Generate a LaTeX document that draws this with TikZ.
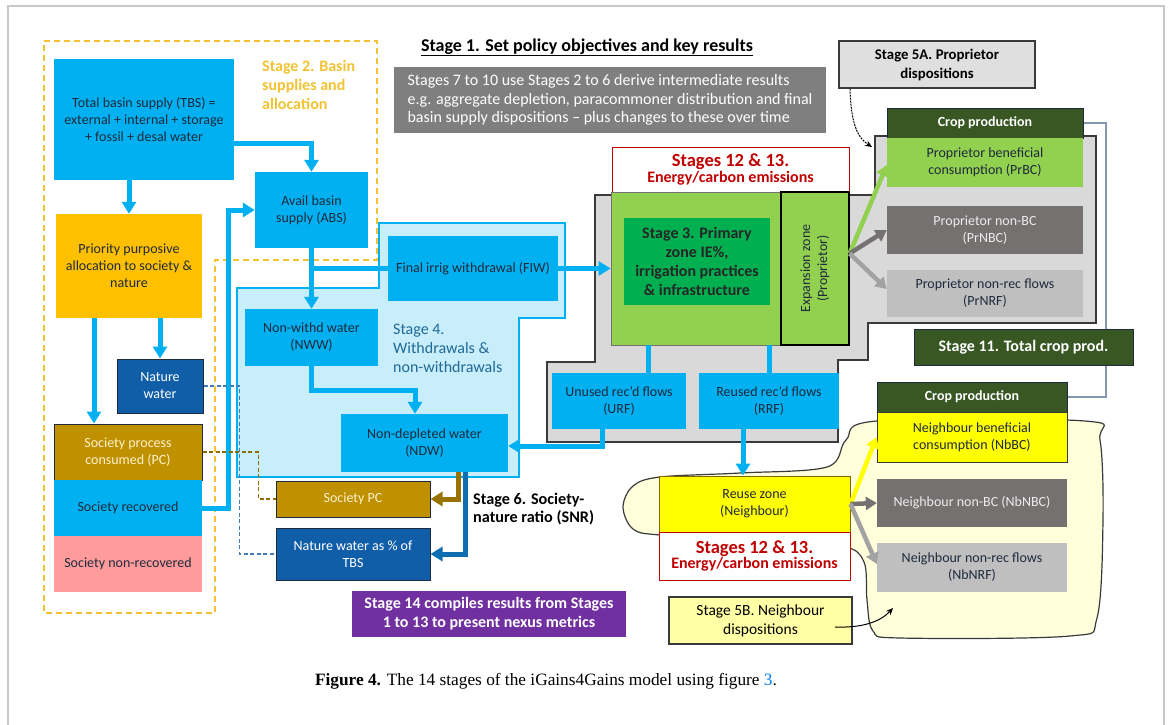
\documentclass[tikz,border=0pt]{standalone}
\usepackage{fontspec}
\setmainfont{Carlito}
\newfontfamily\capfont{Liberation Serif}
\usepackage{xcolor}
\usepackage{tikz}
\usetikzlibrary{arrows.meta}
\definecolor{igcyan}{HTML}{00B0F0}
\definecolor{igpale}{HTML}{C8EDFB}
\definecolor{igtext}{HTML}{1F2A3C}
\definecolor{igorange}{HTML}{FFC000}
\definecolor{iggold}{HTML}{F2C232}
\definecolor{ignavy}{HTML}{115EA8}
\definecolor{igbrown}{HTML}{BF9000}
\definecolor{igcream}{HTML}{FFF2CC}
\definecolor{igpink}{HTML}{FF9B9B}
\definecolor{iglime}{HTML}{92D050}
\definecolor{iggreen}{HTML}{00B050}
\definecolor{igforest}{HTML}{385723}
\definecolor{igdgrey}{HTML}{767171}
\definecolor{iglgrey}{HTML}{BFBFBF}
\definecolor{igzone}{HTML}{D9D9D9}
\definecolor{igmid}{HTML}{7F7F7F}
\definecolor{igred}{HTML}{C00000}
\definecolor{igpurple}{HTML}{7030A0}
\definecolor{igyellow}{HTML}{FFFF00}
\definecolor{igblob}{HTML}{FFFFDC}
\definecolor{igsand}{HTML}{FFFFA6}
\definecolor{iglink}{HTML}{8497B0}
\definecolor{igteal}{HTML}{1F6A96}
\definecolor{igframe}{HTML}{C8C8C8}
\definecolor{igline}{HTML}{3A3A3A}

\begin{document}
\begin{tikzpicture}[x=1pt,y=-1pt,
  bx/.style={align=center,inner sep=2pt,text=igtext,font=\fontsize{14}{17}\selectfont},
  water/.style={bx,fill=igcyan},
  navybox/.style={bx,fill=ignavy,draw=igtext,line width=1pt,text=white},
  brownbox/.style={bx,fill=igbrown,draw=igtext,line width=1pt,text=igcream},
  crophd/.style={bx,fill=igforest,draw=igtext,line width=1pt,text=white,font=\fontsize{14}{17}\selectfont\bfseries},
  redbox/.style={align=center,inner sep=1pt,fill=white,draw=igred,line width=1pt,text=igred,font=\bfseries},
  lbl/.style={align=left,inner sep=0pt,anchor=base west,font=\fontsize{16}{19}\selectfont},
  flow/.style={draw=igcyan,line width=5pt,-{Triangle[length=12pt,width=14pt]}},
  flowline/.style={draw=igcyan,line width=5pt},
  fan/.style={line width=4.5pt,-{Triangle[length=11pt,width=13pt]}},
  link/.style={draw=iglink,line width=1.5pt},
  dashlink/.style={line width=1.3pt,dash pattern=on 4pt off 2.5pt},
  curvy/.style={draw=black,line width=1pt,-{Stealth[length=7pt,width=6pt]}}]
\useasboundingbox (0,0) rectangle (1171,724);

% frame and stage regions
\draw[igframe,line width=1.5pt] (8,740) -- (8,6) -- (1164,6) -- (1164,740);
\draw[iggold,line width=2pt,dash pattern=on 6pt off 4pt]
  (44,41) -- (377,41) -- (377,260) -- (215,260) -- (215,613) -- (44,613) -- cycle;
\filldraw[fill=igpale,draw=igcyan,line width=1.5pt]
  (379,223) -- (565,223) -- (565,318) -- (519,318) -- (519,477) -- (237,477) -- (237,288) -- (379,288) -- cycle;
\filldraw[fill=igzone,draw=igline,line width=1.5pt]
  (595,195) -- (875,195) -- (875,136) -- (1096,136) -- (1096,323) -- (868,323) -- (868,360)
  -- (838,360) -- (838,442) -- (547,442) -- (547,362) -- (595,362) -- cycle;
\filldraw[fill=igblob,draw=igline,line width=1.2pt] plot[smooth cycle,tension=0.55] coordinates
  {(877,421) (846,440) (827,467) (740,473) (660,477) (633,486) (623,507) (633,529) (660,535)
   (760,540) (842,546) (864,562) (867,600) (873,631) (900,638) (1070,636) (1097,618)
   (1103,520) (1100,440) (1085,421)};

% stage 2: basin supplies
\node[lbl,text=iggold,font=\fontsize{16}{19}\selectfont\bfseries] (s2lbl) at (262,109)
  {Stage 2. Basin\\supplies and\\allocation};
\node[water,minimum width=180pt,minimum height=121pt] (tbs) at (144,119.5)
  {Total basin supply (TBS) =\\external + internal + storage\\+ fossil + desal water};
\node[bx,fill=igorange,minimum width=146pt,minimum height=104pt] (pri) at (129,266)
  {Priority purposive\\allocation to society \&\\nature};
\node[water,minimum width=113pt,minimum height=76pt] (abs) at (311.5,210) {Avail basin\\supply (ABS)};
\node[navybox,minimum width=86pt,minimum height=54pt] (nat) at (160,386) {Nature\\water};
\node[brownbox,minimum width=148pt,minimum height=56pt] (socpc) at (128,452) {Society process\\consumed (PC)};
\node[water,minimum width=148pt,minimum height=56pt] (socrec) at (128,508) {Society recovered};
\node[bx,fill=igpink,minimum width=148pt,minimum height=56pt] (socnon) at (128,564) {Society non-recovered};

% stage 4: withdrawals
\node[water,minimum width=170pt,minimum height=65pt] (fiw) at (473,268.5) {Final irrig withdrawal (FIW)};
\node[water,minimum width=133pt,minimum height=57pt] (nww) at (311.5,337.5) {Non-withd water\\(NWW)};
\node[lbl,text=igteal] (s4lbl) at (393,372) {Stage 4.\\Withdrawals \&\\non-withdrawals};
\node[water,minimum width=167pt,minimum height=58pt] (ndw) at (424.5,443) {Non-depleted water\\(NDW)};

% stage 6
\node[brownbox,minimum width=154pt,minimum height=36pt] (spc) at (353,499) {Society PC};
\node[navybox,minimum width=154pt,minimum height=52pt] (nwp) at (353,554) {Nature water as \% of\\TBS};
\node[lbl,text=black,font=\fontsize{16.2}{18.5}\selectfont\bfseries] (s6lbl) at (473,522.5)
  {Stage 6. Society-\\nature ratio (SNR)};
\node[bx,fill=igpurple,text=white,font=\fontsize{16}{19}\selectfont\bfseries,
  minimum width=274pt,minimum height=46pt] (s14) at (489,614)
  {Stage 14 compiles results from Stages\\1 to 13 to present nexus metrics};

% stage 1
\node[inner sep=0pt,anchor=base,font=\fontsize{18}{20}\selectfont\bfseries] (s1) at (587,51)
  {\underline{Stage 1. Set policy objectives and key results}};
\node[bx,fill=igmid,text=white,align=left,font=\fontsize{16}{18.5}\selectfont,
  minimum width=432pt,minimum height=66pt] (s710) at (610,100)
  {Stages 7 to 10 use Stages 2 to 6 derive intermediate results\\e.g. aggregate depletion, paracommoner distribution and final\\basin supply dispositions -- plus changes to these over time};

% stage 3: primary zone
\node[redbox,minimum width=237pt,minimum height=45pt] (em1) at (730.5,169.5)
  {\fontsize{18.5}{19}\selectfont Stages 12 \& 13.\\[0pt]\fontsize{16}{17}\selectfont Energy/carbon emissions};
\node[fill=iglime,draw=igdgrey,line width=0.8pt,minimum width=170pt,minimum height=153pt] (prim) at (696,268.5) {};
\node[fill=iglime,draw=black,line width=1.2pt,minimum width=68pt,minimum height=153pt] (exp) at (815,268.5) {};
\node[bx,rotate=90] (explbl) at (exp) {Expansion zone\\(Proprietor)};
\node[bx,fill=iggreen,text=black!85,font=\fontsize{16}{19}\selectfont\bfseries,
  minimum width=146pt,minimum height=87pt] (s3) at (697,261.5)
  {Stage 3. Primary\\zone IE\%,\\irrigation practices\\\& infrastructure};
\node[water,minimum width=134pt,minimum height=56pt] (urf) at (619,401) {Unused rec’d flows\\(URF)};
\node[water,minimum width=140pt,minimum height=56pt] (rrf) at (769,401) {Reused rec’d flows\\(RRF)};

% stage 5A: proprietor
\node[bx,fill=igzone!85!white,draw=igline,line width=1.2pt,text=black,font=\fontsize{14.8}{19}\selectfont\bfseries,
  minimum width=196pt,minimum height=47pt] (s5a) at (937,64.5) {Stage 5A. Proprietor\\dispositions};
\node[crophd,minimum width=196pt,minimum height=30pt] (prcrop) at (985,123) {Crop production};
\node[bx,fill=iglime,minimum width=196pt,minimum height=49pt] (prbc) at (985,162.5)
  {Proprietor beneficial\\consumption (PrBC)};
\node[bx,fill=igdgrey,text=white!92!black,minimum width=196pt,minimum height=48pt] (prnbc) at (985,230)
  {Proprietor non-BC\\(PrNBC)};
\node[bx,fill=iglgrey,minimum width=196pt,minimum height=47pt] (prnrf) at (985,293.5)
  {Proprietor non-rec flows\\(PrNRF)};
\node[bx,fill=igforest,draw=igtext,line width=1pt,text=white,font=\fontsize{16}{18}\selectfont\bfseries,
  minimum width=219pt,minimum height=36pt] (s11) at (1023.5,347) {Stage 11. Total crop prod.};

% stage 5B: neighbour
\node[bx,fill=igyellow,draw=igbrown!70!black,line width=1pt,minimum width=191pt,minimum height=56pt] (reuse) at (754.5,504)
  {Reuse zone\\(Neighbour)};
\node[redbox,minimum width=191pt,minimum height=48pt] (em2) at (754.5,556)
  {\fontsize{18.5}{19}\selectfont Stages 12 \& 13.\\[0pt]\fontsize{16}{17}\selectfont Energy/carbon emissions};
\node[crophd,minimum width=190pt,minimum height=30pt] (nbcrop) at (972,397) {Crop production};
\node[bx,fill=igyellow,draw=igline,line width=0.8pt,minimum width=190pt,minimum height=50pt] (nbbc) at (972,437)
  {Neighbour beneficial\\consumption (NbBC)};
\node[bx,fill=igdgrey,text=white!92!black,minimum width=190pt,minimum height=48pt] (nbnbc) at (972,503)
  {Neighbour non-BC (NbNBC)};
\node[bx,fill=iglgrey,minimum width=190pt,minimum height=49pt] (nbnrf) at (972,567.5)
  {Neighbour non-rec flows\\(NbNRF)};
\node[bx,fill=igsand,draw=igline,line width=1.2pt,text=black,font=\fontsize{15.5}{19}\selectfont,
  minimum width=183pt,minimum height=47pt] (s5b) at (760.5,620.5) {Stage 5B. Neighbour\\dispositions};

% flows
\draw[flow] ([yshift=-23.5pt]tbs.east) -| (abs.north);
\draw[flow] (pri.north |- tbs.south) -- (pri.north);
\draw[flow] (nat.north |- pri.south) -- (nat.north);
\draw[flow] ([xshift=-35pt]pri.south) -- ([xshift=-35pt]pri.south |- socpc.north);
\draw[flow] (socrec.east) -- ++(26,0) |- (abs.west);
\draw[flow] (abs.south) -- (nww.north);
\draw[flowline] (abs.south |- fiw.west) -- (fiw.west);
\draw[flow] (fiw.east) -- (prim.west |- fiw.east);
\draw[flow] (nww.south) -- ++(0,24) -| ([xshift=-9.5pt]ndw.north);
\draw[flowline] ([xshift=29pt]urf.north |- prim.south) -- ([xshift=29pt]urf.north);
\draw[flowline] (rrf.north |- prim.south) -- (rrf.north);
\draw[flow] ([xshift=-17pt]urf.south) |- ([yshift=-3pt]ndw.east);
\draw[flow] ([xshift=-26pt]rrf.south) -- ([xshift=-26pt]rrf.south |- reuse.north);
\draw[flow,draw=igbrown!80!black] ([xshift=33.5pt]ndw.south) |- (spc.east);
\draw[flow,draw=ignavy!90!cyan] ([xshift=40.5pt]ndw.south) |- (nwp.east);
\draw[dashlink,draw=ignavy!80!white] (nat.east) -- ++(36,0) |- (nwp.west);
\draw[dashlink,draw=igbrown!75!black] (socpc.east) -- ++(56,0) |- (spc.west);

% dispositions
\draw[fan,draw=iglime] ([yshift=15pt]exp.east) -- ([yshift=-2.5pt]prbc.west);
\draw[fan,draw=igdgrey] ([yshift=15pt]exp.east) -- (prnbc.west);
\draw[fan,draw=iglgrey!85!black] ([yshift=15pt]exp.east) -- ([yshift=4.5pt]prnrf.west);
\draw[fan,draw=igyellow] (reuse.east) -- (nbbc.west);
\draw[fan,draw=igdgrey] (reuse.east) -- (nbnbc.west);
\draw[fan,draw=iglgrey!85!black] (reuse.east) -- ([yshift=3.5pt]nbnrf.west);
\draw[link] (prcrop.east) -| ([xshift=82.5pt]s11.north);
\draw[link] ([xshift=82.5pt]s11.south) |- (nbcrop.east);

% pointers
\coordinate (p5a) at (872,147);
\coordinate (p5b) at (893,608);
\draw[curvy,dash pattern=on 2pt off 1pt] ([xshift=-87pt]s5a.south) .. controls (851,125) and (858,138) .. (p5a);
\draw[curvy] ([xshift=74.5pt,yshift=-6.5pt]s5b.center) .. controls (862,628) and (880,622) .. (p5b);

% caption
\node[font=\capfont\fontsize{17.3}{20}\selectfont] (cap) at (546,681)
  {\textbf{Figure 4.} The 14 stages of the iGains4Gains model using figure \textcolor{igcyan!70!blue}{3}.};
\end{tikzpicture}
\end{document}
